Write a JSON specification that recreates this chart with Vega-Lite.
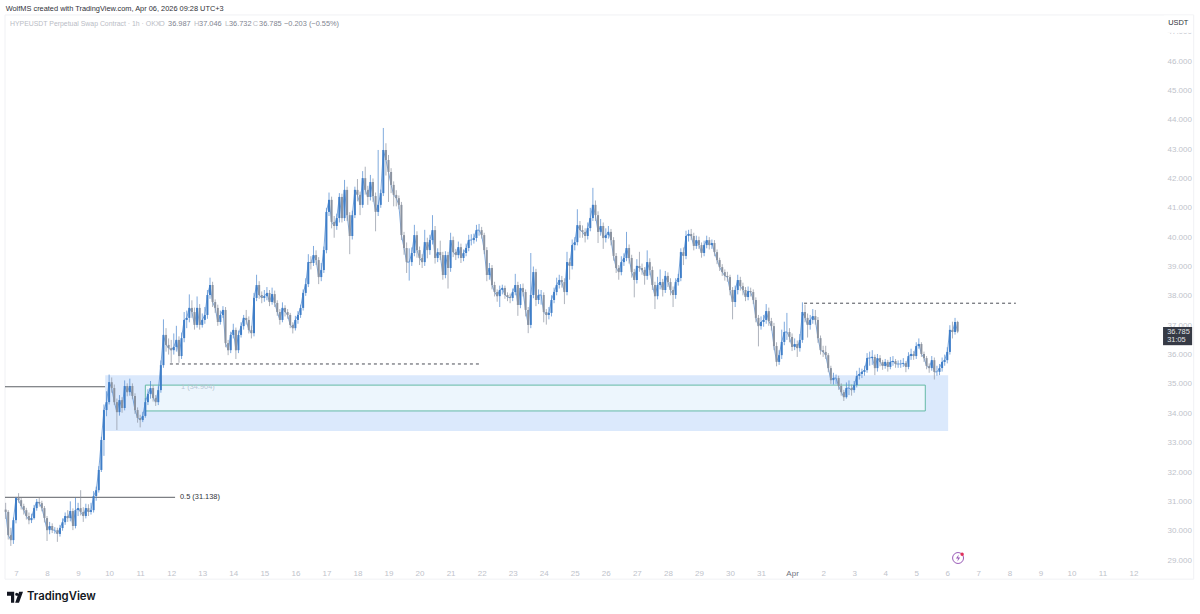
{
"$schema":"https://vega.github.io/schema/vega-lite/v6.json",
"width":1157,"height":546,"autosize":"none",
"padding":{"left":5,"top":17,"right":38,"bottom":51},
"background":"white",
"config":{"view":{"stroke":null},"font":"Liberation Sans"},
"datasets":{
"frame":[{"t":"2026-03-06T15:30Z","t2":"2026-04-13T22:30Z","p":47.57,"p2":28.35}],
"zone":[{"t":"2026-03-09T21:00Z","t2":"2026-04-06T00:40Z","p":35.3,"p2":33.4}],
"box":[{"t":"2026-03-11T04:00Z","t2":"2026-04-05T07:00Z","p":34.96,"p2":34.08}],
"fibs":[
{"t":"2026-03-06T15:30Z","t2":"2026-03-09T21:00Z","p":34.904,"kind":"fib"},
{"t":"2026-03-09T21:00Z","t2":"2026-03-12T03:00Z","p":34.904,"kind":"fade"},
{"t":"2026-03-06T15:30Z","t2":"2026-03-12T03:00Z","p":31.138,"kind":"fib"}],
"dashes":[
{"t":"2026-03-11T23:00Z","t2":"2026-03-21T23:30Z","p":35.68},
{"t":"2026-04-01T09:17Z","t2":"2026-04-08T05:00Z","p":37.75}],
"cover":[{"t":"2026-04-12T23:30Z","t2":"2026-04-13T22:00Z","p":47.55,"p2":46.96}],
"tag":[{"t":"2026-04-12T22:48Z","t2":"2026-04-13T21:17Z","p":36.94,"p2":36.32}],
"icon":[{"t":"2026-04-06T08:20Z","p":29.07}],
"dot":[{"t":"2026-04-06T11:28Z","p":29.2}],
"logo":[{"t":"2026-03-06T23:14Z","p":27.74}],
"brand":[{"t":"2026-03-07T08:30Z","p":27.74,"label":"TradingView"}],
"symbol":[{"t":"2026-03-06T19:22Z","p":47.26,"label":"HYPEUSDT Perpetual Swap Contract · 1h · OKX"}],
"notes":[
{"t":"2026-03-06T16:00Z","p":47.77,"label":"WolfMS created with TradingView.com, Apr 06, 2026 09:28 UTC+3","kind":"head"},
{"t":"2026-03-11T14:30Z","p":47.26,"label":"O","kind":"muted"},
{"t":"2026-03-11T21:32Z","p":47.26,"label":"36.987","kind":"val"},
{"t":"2026-03-12T17:38Z","p":47.26,"label":"H","kind":"muted"},
{"t":"2026-03-12T21:30Z","p":47.26,"label":"37.046","kind":"val"},
{"t":"2026-03-13T17:35Z","p":47.26,"label":"L","kind":"muted"},
{"t":"2026-03-13T20:40Z","p":47.26,"label":"36.732","kind":"val"},
{"t":"2026-03-14T15:00Z","p":47.26,"label":"C","kind":"muted"},
{"t":"2026-03-14T19:54Z","p":47.26,"label":"36.785","kind":"val"},
{"t":"2026-03-15T15:13Z","p":47.26,"label":"−0.203 (−0.55%)","kind":"val"},
{"t":"2026-03-12T07:35Z","p":34.904,"label":"1 (34.904)","kind":"fade"},
{"t":"2026-03-12T06:47Z","p":31.138,"label":"0.5 (31.138)","kind":"head"},
{"t":"2026-04-13T02:45Z","p":47.28,"label":"USDT","kind":"head"},
{"t":"2026-04-13T02:00Z","p":36.77,"label":"36.785","kind":"tag"},
{"t":"2026-04-13T02:00Z","p":36.5,"label":"31:05","kind":"tag"}],
"candles":[
{"t":"2026-03-06T16:00Z","o":30.72,"h":30.95,"l":30.4,"c":30.64},
{"t":"2026-03-06T18:00Z","o":30.64,"h":30.7,"l":29.7,"c":29.85},
{"t":"2026-03-06T20:00Z","o":29.85,"h":30.1,"l":29.48,"c":29.68},
{"t":"2026-03-06T22:00Z","o":29.68,"h":30.45,"l":29.55,"c":30.36},
{"t":"2026-03-07T00:00Z","o":30.36,"h":31.15,"l":30.25,"c":31.11},
{"t":"2026-03-07T02:00Z","o":31.11,"h":31.28,"l":30.95,"c":31.04},
{"t":"2026-03-07T04:00Z","o":31.04,"h":31.12,"l":30.72,"c":30.84},
{"t":"2026-03-07T06:00Z","o":30.84,"h":30.92,"l":30.55,"c":30.7},
{"t":"2026-03-07T08:00Z","o":30.7,"h":30.78,"l":30.38,"c":30.5},
{"t":"2026-03-07T10:00Z","o":30.5,"h":30.62,"l":30.22,"c":30.36},
{"t":"2026-03-07T12:00Z","o":30.36,"h":30.58,"l":30.26,"c":30.43},
{"t":"2026-03-07T14:00Z","o":30.43,"h":30.88,"l":30.38,"c":30.77},
{"t":"2026-03-07T16:00Z","o":30.77,"h":31.08,"l":30.68,"c":30.98},
{"t":"2026-03-07T18:00Z","o":30.98,"h":31.12,"l":30.82,"c":30.94},
{"t":"2026-03-07T20:00Z","o":30.94,"h":31.02,"l":30.66,"c":30.77},
{"t":"2026-03-07T22:00Z","o":30.77,"h":30.84,"l":30.28,"c":30.43},
{"t":"2026-03-08T00:00Z","o":30.43,"h":30.5,"l":29.65,"c":30.02},
{"t":"2026-03-08T02:00Z","o":30.02,"h":30.3,"l":29.88,"c":30.16},
{"t":"2026-03-08T04:00Z","o":30.16,"h":30.25,"l":29.92,"c":30.02},
{"t":"2026-03-08T06:00Z","o":30.02,"h":30.12,"l":29.9,"c":30.02},
{"t":"2026-03-08T08:00Z","o":30.02,"h":30.1,"l":29.62,"c":29.89},
{"t":"2026-03-08T10:00Z","o":29.89,"h":30.2,"l":29.8,"c":30.09},
{"t":"2026-03-08T12:00Z","o":30.09,"h":30.42,"l":30.0,"c":30.29},
{"t":"2026-03-08T14:00Z","o":30.29,"h":30.62,"l":30.2,"c":30.5},
{"t":"2026-03-08T16:00Z","o":30.5,"h":30.7,"l":30.3,"c":30.43},
{"t":"2026-03-08T18:00Z","o":30.43,"h":31.0,"l":30.32,"c":30.67},
{"t":"2026-03-08T20:00Z","o":30.67,"h":30.76,"l":30.02,"c":30.16},
{"t":"2026-03-08T22:00Z","o":30.16,"h":31.12,"l":30.08,"c":30.7},
{"t":"2026-03-09T00:00Z","o":30.7,"h":30.95,"l":30.5,"c":30.77},
{"t":"2026-03-09T02:00Z","o":30.77,"h":31.38,"l":30.52,"c":30.64},
{"t":"2026-03-09T04:00Z","o":30.64,"h":30.8,"l":30.3,"c":30.5},
{"t":"2026-03-09T06:00Z","o":30.5,"h":30.92,"l":30.42,"c":30.77},
{"t":"2026-03-09T08:00Z","o":30.77,"h":30.9,"l":30.5,"c":30.64},
{"t":"2026-03-09T10:00Z","o":30.64,"h":30.95,"l":30.55,"c":30.7},
{"t":"2026-03-09T12:00Z","o":30.7,"h":31.35,"l":30.62,"c":31.18},
{"t":"2026-03-09T14:00Z","o":31.18,"h":31.5,"l":31.02,"c":31.38},
{"t":"2026-03-09T16:00Z","o":31.38,"h":32.2,"l":31.3,"c":32.07},
{"t":"2026-03-09T18:00Z","o":32.07,"h":33.2,"l":32.0,"c":33.09},
{"t":"2026-03-09T20:00Z","o":33.09,"h":34.3,"l":32.55,"c":34.11},
{"t":"2026-03-09T22:00Z","o":34.11,"h":34.75,"l":33.9,"c":34.38},
{"t":"2026-03-10T00:00Z","o":34.38,"h":35.32,"l":34.3,"c":35.06},
{"t":"2026-03-10T02:00Z","o":35.06,"h":35.22,"l":34.7,"c":34.86},
{"t":"2026-03-10T04:00Z","o":34.86,"h":34.98,"l":34.28,"c":34.38},
{"t":"2026-03-10T06:00Z","o":34.38,"h":34.5,"l":33.43,"c":34.04},
{"t":"2026-03-10T08:00Z","o":34.04,"h":34.62,"l":33.92,"c":34.45},
{"t":"2026-03-10T10:00Z","o":34.45,"h":34.55,"l":34.02,"c":34.18},
{"t":"2026-03-10T12:00Z","o":34.18,"h":35.12,"l":34.1,"c":34.93},
{"t":"2026-03-10T14:00Z","o":34.93,"h":35.02,"l":34.58,"c":34.72},
{"t":"2026-03-10T16:00Z","o":34.72,"h":35.18,"l":34.6,"c":34.93},
{"t":"2026-03-10T18:00Z","o":34.93,"h":35.02,"l":34.48,"c":34.59},
{"t":"2026-03-10T20:00Z","o":34.59,"h":34.68,"l":33.98,"c":34.11},
{"t":"2026-03-10T22:00Z","o":34.11,"h":34.2,"l":33.68,"c":33.84},
{"t":"2026-03-11T00:00Z","o":33.84,"h":33.95,"l":33.52,"c":33.77},
{"t":"2026-03-11T02:00Z","o":33.77,"h":34.05,"l":33.7,"c":33.91},
{"t":"2026-03-11T04:00Z","o":33.91,"h":34.52,"l":33.85,"c":34.38},
{"t":"2026-03-11T06:00Z","o":34.38,"h":34.82,"l":34.28,"c":34.66},
{"t":"2026-03-11T08:00Z","o":34.66,"h":35.1,"l":34.5,"c":34.86},
{"t":"2026-03-11T10:00Z","o":34.86,"h":34.95,"l":34.4,"c":34.52},
{"t":"2026-03-11T12:00Z","o":34.52,"h":34.62,"l":34.25,"c":34.38},
{"t":"2026-03-11T14:00Z","o":34.38,"h":34.92,"l":34.28,"c":34.79},
{"t":"2026-03-11T16:00Z","o":34.79,"h":35.8,"l":34.7,"c":35.64},
{"t":"2026-03-11T18:00Z","o":35.64,"h":37.2,"l":35.55,"c":36.67},
{"t":"2026-03-11T20:00Z","o":36.67,"h":36.9,"l":36.1,"c":36.33},
{"t":"2026-03-11T22:00Z","o":36.33,"h":36.55,"l":36.0,"c":36.22},
{"t":"2026-03-12T00:00Z","o":36.22,"h":36.5,"l":35.72,"c":36.15},
{"t":"2026-03-12T02:00Z","o":36.15,"h":36.72,"l":36.0,"c":36.26},
{"t":"2026-03-12T04:00Z","o":36.26,"h":36.98,"l":36.1,"c":36.5},
{"t":"2026-03-12T06:00Z","o":36.5,"h":36.62,"l":35.72,"c":35.95},
{"t":"2026-03-12T08:00Z","o":35.95,"h":36.75,"l":35.85,"c":36.56},
{"t":"2026-03-12T10:00Z","o":36.56,"h":37.45,"l":36.42,"c":37.18},
{"t":"2026-03-12T12:00Z","o":37.18,"h":37.5,"l":36.9,"c":37.25},
{"t":"2026-03-12T14:00Z","o":37.25,"h":38.05,"l":37.1,"c":37.59},
{"t":"2026-03-12T16:00Z","o":37.59,"h":37.85,"l":37.25,"c":37.45},
{"t":"2026-03-12T18:00Z","o":37.45,"h":37.6,"l":36.85,"c":37.01},
{"t":"2026-03-12T20:00Z","o":37.01,"h":37.98,"l":36.92,"c":37.59},
{"t":"2026-03-12T22:00Z","o":37.59,"h":37.72,"l":36.85,"c":37.01},
{"t":"2026-03-13T00:00Z","o":37.01,"h":37.4,"l":36.92,"c":37.18},
{"t":"2026-03-13T02:00Z","o":37.18,"h":37.62,"l":37.05,"c":37.35},
{"t":"2026-03-13T04:00Z","o":37.35,"h":38.2,"l":37.22,"c":38.03},
{"t":"2026-03-13T06:00Z","o":38.03,"h":38.62,"l":37.9,"c":38.37},
{"t":"2026-03-13T08:00Z","o":38.37,"h":38.48,"l":37.62,"c":37.79},
{"t":"2026-03-13T10:00Z","o":37.79,"h":37.88,"l":37.42,"c":37.59},
{"t":"2026-03-13T12:00Z","o":37.59,"h":37.7,"l":36.98,"c":37.11},
{"t":"2026-03-13T14:00Z","o":37.11,"h":37.5,"l":37.02,"c":37.35},
{"t":"2026-03-13T16:00Z","o":37.35,"h":37.65,"l":37.25,"c":37.52},
{"t":"2026-03-13T18:00Z","o":37.52,"h":37.62,"l":36.25,"c":36.39},
{"t":"2026-03-13T20:00Z","o":36.39,"h":36.5,"l":35.98,"c":36.15},
{"t":"2026-03-13T22:00Z","o":36.15,"h":36.78,"l":36.05,"c":36.67},
{"t":"2026-03-14T00:00Z","o":36.67,"h":37.05,"l":36.55,"c":36.84},
{"t":"2026-03-14T02:00Z","o":36.84,"h":36.92,"l":35.85,"c":36.15},
{"t":"2026-03-14T04:00Z","o":36.15,"h":36.82,"l":36.05,"c":36.67},
{"t":"2026-03-14T06:00Z","o":36.67,"h":37.1,"l":36.58,"c":36.97},
{"t":"2026-03-14T08:00Z","o":36.97,"h":37.35,"l":36.85,"c":37.25},
{"t":"2026-03-14T10:00Z","o":37.25,"h":37.52,"l":37.02,"c":37.18},
{"t":"2026-03-14T12:00Z","o":37.18,"h":37.3,"l":36.72,"c":36.84},
{"t":"2026-03-14T14:00Z","o":36.84,"h":36.98,"l":36.55,"c":36.73},
{"t":"2026-03-14T16:00Z","o":36.73,"h":38.1,"l":36.62,"c":37.93},
{"t":"2026-03-14T18:00Z","o":37.93,"h":38.72,"l":37.82,"c":38.37},
{"t":"2026-03-14T20:00Z","o":38.37,"h":38.5,"l":37.9,"c":38.03},
{"t":"2026-03-14T22:00Z","o":38.03,"h":38.15,"l":37.75,"c":37.93},
{"t":"2026-03-15T00:00Z","o":37.93,"h":38.2,"l":37.8,"c":37.99},
{"t":"2026-03-15T02:00Z","o":37.99,"h":38.3,"l":37.85,"c":38.1},
{"t":"2026-03-15T04:00Z","o":38.1,"h":38.2,"l":37.65,"c":37.79},
{"t":"2026-03-15T06:00Z","o":37.79,"h":38.28,"l":37.7,"c":38.06},
{"t":"2026-03-15T08:00Z","o":38.06,"h":38.18,"l":37.62,"c":37.76},
{"t":"2026-03-15T10:00Z","o":37.76,"h":37.85,"l":37.32,"c":37.45},
{"t":"2026-03-15T12:00Z","o":37.45,"h":37.55,"l":37.02,"c":37.18},
{"t":"2026-03-15T14:00Z","o":37.18,"h":37.78,"l":37.1,"c":37.59},
{"t":"2026-03-15T16:00Z","o":37.59,"h":37.68,"l":37.3,"c":37.45},
{"t":"2026-03-15T18:00Z","o":37.45,"h":37.55,"l":37.22,"c":37.35},
{"t":"2026-03-15T20:00Z","o":37.35,"h":37.42,"l":36.9,"c":37.01},
{"t":"2026-03-15T22:00Z","o":37.01,"h":37.1,"l":36.72,"c":36.9},
{"t":"2026-03-16T00:00Z","o":36.9,"h":37.32,"l":36.82,"c":37.18},
{"t":"2026-03-16T02:00Z","o":37.18,"h":37.48,"l":37.05,"c":37.35},
{"t":"2026-03-16T04:00Z","o":37.35,"h":37.7,"l":37.25,"c":37.59},
{"t":"2026-03-16T06:00Z","o":37.59,"h":38.22,"l":37.5,"c":38.1},
{"t":"2026-03-16T08:00Z","o":38.1,"h":38.6,"l":38.0,"c":38.4},
{"t":"2026-03-16T10:00Z","o":38.4,"h":39.42,"l":38.3,"c":39.15},
{"t":"2026-03-16T12:00Z","o":39.15,"h":39.35,"l":38.9,"c":39.12},
{"t":"2026-03-16T14:00Z","o":39.12,"h":39.7,"l":39.02,"c":39.39},
{"t":"2026-03-16T16:00Z","o":39.39,"h":39.55,"l":39.05,"c":39.22},
{"t":"2026-03-16T18:00Z","o":39.22,"h":39.32,"l":38.4,"c":38.64},
{"t":"2026-03-16T20:00Z","o":38.64,"h":39.12,"l":38.5,"c":38.88},
{"t":"2026-03-16T22:00Z","o":38.88,"h":39.68,"l":38.78,"c":39.56},
{"t":"2026-03-17T00:00Z","o":39.56,"h":41.0,"l":39.45,"c":40.86},
{"t":"2026-03-17T02:00Z","o":40.86,"h":41.52,"l":40.72,"c":41.27},
{"t":"2026-03-17T04:00Z","o":41.27,"h":41.38,"l":40.3,"c":40.52},
{"t":"2026-03-17T06:00Z","o":40.52,"h":40.72,"l":39.98,"c":40.38},
{"t":"2026-03-17T08:00Z","o":40.38,"h":40.8,"l":40.25,"c":40.65},
{"t":"2026-03-17T10:00Z","o":40.65,"h":41.5,"l":40.5,"c":41.37},
{"t":"2026-03-17T12:00Z","o":41.37,"h":41.48,"l":40.5,"c":40.65},
{"t":"2026-03-17T14:00Z","o":40.65,"h":41.95,"l":40.55,"c":41.61},
{"t":"2026-03-17T16:00Z","o":41.61,"h":41.72,"l":40.55,"c":40.75},
{"t":"2026-03-17T18:00Z","o":40.75,"h":40.85,"l":39.42,"c":40.04},
{"t":"2026-03-17T20:00Z","o":40.04,"h":40.9,"l":39.92,"c":40.75},
{"t":"2026-03-17T22:00Z","o":40.75,"h":41.72,"l":40.65,"c":41.61},
{"t":"2026-03-18T00:00Z","o":41.61,"h":41.98,"l":41.22,"c":41.44},
{"t":"2026-03-18T02:00Z","o":41.44,"h":41.55,"l":40.75,"c":41.1},
{"t":"2026-03-18T04:00Z","o":41.1,"h":42.25,"l":41.0,"c":42.01},
{"t":"2026-03-18T06:00Z","o":42.01,"h":42.4,"l":41.45,"c":41.61},
{"t":"2026-03-18T08:00Z","o":41.61,"h":41.75,"l":41.1,"c":41.37},
{"t":"2026-03-18T10:00Z","o":41.37,"h":42.12,"l":41.25,"c":41.88},
{"t":"2026-03-18T12:00Z","o":41.88,"h":42.0,"l":41.2,"c":41.4},
{"t":"2026-03-18T14:00Z","o":41.4,"h":41.52,"l":40.2,"c":40.86},
{"t":"2026-03-18T16:00Z","o":40.86,"h":42.97,"l":40.72,"c":41.1},
{"t":"2026-03-18T18:00Z","o":41.1,"h":41.62,"l":41.0,"c":41.5},
{"t":"2026-03-18T20:00Z","o":41.5,"h":43.72,"l":41.4,"c":42.97},
{"t":"2026-03-18T22:00Z","o":42.97,"h":43.2,"l":42.1,"c":42.63},
{"t":"2026-03-19T00:00Z","o":42.63,"h":42.8,"l":41.2,"c":42.22},
{"t":"2026-03-19T02:00Z","o":42.22,"h":42.35,"l":41.5,"c":41.78},
{"t":"2026-03-19T04:00Z","o":41.78,"h":41.9,"l":41.05,"c":41.44},
{"t":"2026-03-19T06:00Z","o":41.44,"h":41.6,"l":41.05,"c":41.33},
{"t":"2026-03-19T08:00Z","o":41.33,"h":41.42,"l":40.95,"c":41.1},
{"t":"2026-03-19T10:00Z","o":41.1,"h":41.2,"l":39.9,"c":40.07},
{"t":"2026-03-19T12:00Z","o":40.07,"h":40.18,"l":39.4,"c":39.63},
{"t":"2026-03-19T14:00Z","o":39.63,"h":39.82,"l":38.78,"c":39.15},
{"t":"2026-03-19T16:00Z","o":39.15,"h":39.62,"l":38.52,"c":39.15},
{"t":"2026-03-19T18:00Z","o":39.15,"h":39.65,"l":39.02,"c":39.46},
{"t":"2026-03-19T20:00Z","o":39.46,"h":40.42,"l":39.35,"c":40.07},
{"t":"2026-03-19T22:00Z","o":40.07,"h":40.2,"l":39.3,"c":39.56},
{"t":"2026-03-20T00:00Z","o":39.56,"h":39.68,"l":39.05,"c":39.29},
{"t":"2026-03-20T02:00Z","o":39.29,"h":39.42,"l":38.95,"c":39.15},
{"t":"2026-03-20T04:00Z","o":39.15,"h":40.25,"l":39.02,"c":39.83},
{"t":"2026-03-20T06:00Z","o":39.83,"h":39.98,"l":39.28,"c":39.56},
{"t":"2026-03-20T08:00Z","o":39.56,"h":40.08,"l":39.4,"c":39.9},
{"t":"2026-03-20T10:00Z","o":39.9,"h":40.75,"l":39.75,"c":40.24},
{"t":"2026-03-20T12:00Z","o":40.24,"h":40.38,"l":39.1,"c":39.29},
{"t":"2026-03-20T14:00Z","o":39.29,"h":39.62,"l":39.15,"c":39.49},
{"t":"2026-03-20T16:00Z","o":39.49,"h":39.88,"l":39.22,"c":39.39},
{"t":"2026-03-20T18:00Z","o":39.39,"h":39.5,"l":38.55,"c":38.71},
{"t":"2026-03-20T20:00Z","o":38.71,"h":39.52,"l":38.6,"c":39.39},
{"t":"2026-03-20T22:00Z","o":39.39,"h":39.5,"l":38.25,"c":38.95},
{"t":"2026-03-21T00:00Z","o":38.95,"h":40.15,"l":38.82,"c":39.9},
{"t":"2026-03-21T02:00Z","o":39.9,"h":40.02,"l":39.32,"c":39.49},
{"t":"2026-03-21T04:00Z","o":39.49,"h":39.6,"l":39.22,"c":39.39},
{"t":"2026-03-21T06:00Z","o":39.39,"h":39.85,"l":39.28,"c":39.66},
{"t":"2026-03-21T08:00Z","o":39.66,"h":39.78,"l":39.12,"c":39.29},
{"t":"2026-03-21T10:00Z","o":39.29,"h":39.58,"l":39.18,"c":39.46},
{"t":"2026-03-21T12:00Z","o":39.46,"h":39.78,"l":39.35,"c":39.63},
{"t":"2026-03-21T14:00Z","o":39.63,"h":40.08,"l":39.52,"c":39.9},
{"t":"2026-03-21T16:00Z","o":39.9,"h":40.1,"l":39.72,"c":39.9},
{"t":"2026-03-21T18:00Z","o":39.9,"h":40.12,"l":39.78,"c":39.97},
{"t":"2026-03-21T20:00Z","o":39.97,"h":40.42,"l":39.85,"c":40.24},
{"t":"2026-03-21T22:00Z","o":40.24,"h":40.45,"l":40.05,"c":40.24},
{"t":"2026-03-22T00:00Z","o":40.24,"h":40.35,"l":39.95,"c":40.07},
{"t":"2026-03-22T02:00Z","o":40.07,"h":40.15,"l":39.42,"c":39.56},
{"t":"2026-03-22T04:00Z","o":39.56,"h":39.66,"l":38.5,"c":38.71},
{"t":"2026-03-22T06:00Z","o":38.71,"h":39.12,"l":38.55,"c":38.95},
{"t":"2026-03-22T08:00Z","o":38.95,"h":39.05,"l":38.22,"c":38.37},
{"t":"2026-03-22T10:00Z","o":38.37,"h":38.48,"l":37.98,"c":38.13},
{"t":"2026-03-22T12:00Z","o":38.13,"h":38.22,"l":37.8,"c":37.99},
{"t":"2026-03-22T14:00Z","o":37.99,"h":38.35,"l":37.62,"c":38.2},
{"t":"2026-03-22T16:00Z","o":38.2,"h":38.38,"l":38.05,"c":38.27},
{"t":"2026-03-22T18:00Z","o":38.27,"h":38.35,"l":37.9,"c":38.03},
{"t":"2026-03-22T20:00Z","o":38.03,"h":38.12,"l":37.82,"c":37.96},
{"t":"2026-03-22T22:00Z","o":37.96,"h":38.08,"l":37.75,"c":37.93},
{"t":"2026-03-23T00:00Z","o":37.93,"h":38.25,"l":37.82,"c":38.13},
{"t":"2026-03-23T02:00Z","o":38.13,"h":38.75,"l":38.02,"c":38.37},
{"t":"2026-03-23T04:00Z","o":38.37,"h":38.48,"l":37.32,"c":37.69},
{"t":"2026-03-23T06:00Z","o":37.69,"h":38.4,"l":37.58,"c":38.27},
{"t":"2026-03-23T08:00Z","o":38.27,"h":38.42,"l":37.98,"c":38.13},
{"t":"2026-03-23T10:00Z","o":38.13,"h":38.22,"l":37.3,"c":37.52},
{"t":"2026-03-23T12:00Z","o":37.52,"h":37.62,"l":36.73,"c":37.01},
{"t":"2026-03-23T14:00Z","o":37.01,"h":39.46,"l":36.9,"c":38.03},
{"t":"2026-03-23T16:00Z","o":38.03,"h":39.0,"l":37.92,"c":38.81},
{"t":"2026-03-23T18:00Z","o":38.81,"h":38.92,"l":37.65,"c":37.86},
{"t":"2026-03-23T20:00Z","o":37.86,"h":38.22,"l":37.72,"c":38.03},
{"t":"2026-03-23T22:00Z","o":38.03,"h":38.2,"l":37.7,"c":38.03},
{"t":"2026-03-24T00:00Z","o":38.03,"h":38.12,"l":37.1,"c":37.45},
{"t":"2026-03-24T02:00Z","o":37.45,"h":37.55,"l":37.02,"c":37.35},
{"t":"2026-03-24T04:00Z","o":37.35,"h":37.62,"l":37.2,"c":37.42},
{"t":"2026-03-24T06:00Z","o":37.42,"h":38.02,"l":37.3,"c":37.86},
{"t":"2026-03-24T08:00Z","o":37.86,"h":38.28,"l":37.75,"c":38.13},
{"t":"2026-03-24T10:00Z","o":38.13,"h":38.62,"l":38.02,"c":38.37},
{"t":"2026-03-24T12:00Z","o":38.37,"h":38.72,"l":38.25,"c":38.54},
{"t":"2026-03-24T14:00Z","o":38.54,"h":38.68,"l":38.28,"c":38.47},
{"t":"2026-03-24T16:00Z","o":38.47,"h":38.6,"l":37.72,"c":38.13},
{"t":"2026-03-24T18:00Z","o":38.13,"h":39.5,"l":38.02,"c":39.15},
{"t":"2026-03-24T20:00Z","o":39.15,"h":39.28,"l":38.55,"c":39.02},
{"t":"2026-03-24T22:00Z","o":39.02,"h":39.92,"l":38.9,"c":39.73},
{"t":"2026-03-25T00:00Z","o":39.73,"h":40.0,"l":39.55,"c":39.83},
{"t":"2026-03-25T02:00Z","o":39.83,"h":40.95,"l":39.72,"c":40.41},
{"t":"2026-03-25T04:00Z","o":40.41,"h":40.55,"l":39.98,"c":40.24},
{"t":"2026-03-25T06:00Z","o":40.24,"h":40.4,"l":39.98,"c":40.18},
{"t":"2026-03-25T08:00Z","o":40.18,"h":40.3,"l":39.82,"c":40.04},
{"t":"2026-03-25T10:00Z","o":40.04,"h":40.5,"l":39.92,"c":40.31},
{"t":"2026-03-25T12:00Z","o":40.31,"h":41.0,"l":40.2,"c":40.65},
{"t":"2026-03-25T14:00Z","o":40.65,"h":41.68,"l":40.55,"c":41.1},
{"t":"2026-03-25T16:00Z","o":41.1,"h":41.25,"l":40.55,"c":40.75},
{"t":"2026-03-25T18:00Z","o":40.75,"h":40.88,"l":39.8,"c":40.18},
{"t":"2026-03-25T20:00Z","o":40.18,"h":40.62,"l":40.05,"c":40.38},
{"t":"2026-03-25T22:00Z","o":40.38,"h":40.5,"l":39.6,"c":39.97},
{"t":"2026-03-26T00:00Z","o":39.97,"h":40.3,"l":39.82,"c":40.07},
{"t":"2026-03-26T02:00Z","o":40.07,"h":40.38,"l":39.95,"c":40.18},
{"t":"2026-03-26T04:00Z","o":40.18,"h":40.28,"l":39.72,"c":39.9},
{"t":"2026-03-26T06:00Z","o":39.9,"h":40.0,"l":39.2,"c":39.36},
{"t":"2026-03-26T08:00Z","o":39.36,"h":39.46,"l":38.78,"c":38.95},
{"t":"2026-03-26T10:00Z","o":38.95,"h":39.05,"l":38.55,"c":38.81},
{"t":"2026-03-26T12:00Z","o":38.81,"h":39.35,"l":38.7,"c":39.15},
{"t":"2026-03-26T14:00Z","o":39.15,"h":39.45,"l":39.02,"c":39.29},
{"t":"2026-03-26T16:00Z","o":39.29,"h":40.18,"l":39.18,"c":39.63},
{"t":"2026-03-26T18:00Z","o":39.63,"h":39.75,"l":39.1,"c":39.29},
{"t":"2026-03-26T20:00Z","o":39.29,"h":39.4,"l":38.62,"c":38.81},
{"t":"2026-03-26T22:00Z","o":38.81,"h":38.92,"l":37.95,"c":38.54},
{"t":"2026-03-27T00:00Z","o":38.54,"h":39.25,"l":38.42,"c":39.02},
{"t":"2026-03-27T02:00Z","o":39.02,"h":39.5,"l":38.82,"c":38.95},
{"t":"2026-03-27T04:00Z","o":38.95,"h":39.1,"l":38.72,"c":38.88},
{"t":"2026-03-27T06:00Z","o":38.88,"h":38.98,"l":38.38,"c":38.68},
{"t":"2026-03-27T08:00Z","o":38.68,"h":39.55,"l":38.55,"c":39.15},
{"t":"2026-03-27T10:00Z","o":39.15,"h":39.28,"l":38.7,"c":38.88},
{"t":"2026-03-27T12:00Z","o":38.88,"h":39.0,"l":38.2,"c":38.37},
{"t":"2026-03-27T14:00Z","o":38.37,"h":38.48,"l":37.55,"c":37.99},
{"t":"2026-03-27T16:00Z","o":37.99,"h":38.65,"l":37.88,"c":38.37},
{"t":"2026-03-27T18:00Z","o":38.37,"h":38.9,"l":38.22,"c":38.47},
{"t":"2026-03-27T20:00Z","o":38.47,"h":38.58,"l":37.98,"c":38.2},
{"t":"2026-03-27T22:00Z","o":38.2,"h":38.85,"l":38.1,"c":38.68},
{"t":"2026-03-28T00:00Z","o":38.68,"h":38.8,"l":38.3,"c":38.47},
{"t":"2026-03-28T02:00Z","o":38.47,"h":38.6,"l":38.02,"c":38.2},
{"t":"2026-03-28T04:00Z","o":38.2,"h":38.32,"l":37.62,"c":38.03},
{"t":"2026-03-28T06:00Z","o":38.03,"h":38.6,"l":37.9,"c":38.47},
{"t":"2026-03-28T08:00Z","o":38.47,"h":38.75,"l":38.35,"c":38.61},
{"t":"2026-03-28T10:00Z","o":38.61,"h":39.62,"l":38.5,"c":39.49},
{"t":"2026-03-28T12:00Z","o":39.49,"h":39.65,"l":39.05,"c":39.36},
{"t":"2026-03-28T14:00Z","o":39.36,"h":40.22,"l":39.25,"c":40.04},
{"t":"2026-03-28T16:00Z","o":40.04,"h":40.25,"l":39.85,"c":40.11},
{"t":"2026-03-28T18:00Z","o":40.11,"h":40.28,"l":39.9,"c":40.04},
{"t":"2026-03-28T20:00Z","o":40.04,"h":40.15,"l":39.55,"c":39.7},
{"t":"2026-03-28T22:00Z","o":39.7,"h":40.05,"l":39.6,"c":39.9},
{"t":"2026-03-29T00:00Z","o":39.9,"h":40.02,"l":39.6,"c":39.73},
{"t":"2026-03-29T02:00Z","o":39.73,"h":39.82,"l":39.3,"c":39.46},
{"t":"2026-03-29T04:00Z","o":39.46,"h":39.88,"l":39.35,"c":39.73},
{"t":"2026-03-29T06:00Z","o":39.73,"h":40.05,"l":39.62,"c":39.9},
{"t":"2026-03-29T08:00Z","o":39.9,"h":40.0,"l":39.58,"c":39.73},
{"t":"2026-03-29T10:00Z","o":39.73,"h":39.92,"l":39.6,"c":39.8},
{"t":"2026-03-29T12:00Z","o":39.8,"h":39.9,"l":39.35,"c":39.49},
{"t":"2026-03-29T14:00Z","o":39.49,"h":39.58,"l":39.08,"c":39.22},
{"t":"2026-03-29T16:00Z","o":39.22,"h":39.3,"l":38.85,"c":38.98},
{"t":"2026-03-29T18:00Z","o":38.98,"h":39.08,"l":38.68,"c":38.81},
{"t":"2026-03-29T20:00Z","o":38.81,"h":38.9,"l":38.52,"c":38.68},
{"t":"2026-03-29T22:00Z","o":38.68,"h":38.82,"l":38.48,"c":38.64},
{"t":"2026-03-30T00:00Z","o":38.64,"h":38.72,"l":38.02,"c":38.2},
{"t":"2026-03-30T02:00Z","o":38.2,"h":38.3,"l":37.2,"c":37.79},
{"t":"2026-03-30T04:00Z","o":37.79,"h":38.35,"l":37.62,"c":38.2},
{"t":"2026-03-30T06:00Z","o":38.2,"h":38.72,"l":38.05,"c":38.54},
{"t":"2026-03-30T08:00Z","o":38.54,"h":38.65,"l":38.18,"c":38.33},
{"t":"2026-03-30T10:00Z","o":38.33,"h":38.45,"l":38.02,"c":38.2},
{"t":"2026-03-30T12:00Z","o":38.2,"h":38.3,"l":37.82,"c":37.96},
{"t":"2026-03-30T14:00Z","o":37.96,"h":38.32,"l":37.85,"c":38.16},
{"t":"2026-03-30T16:00Z","o":38.16,"h":38.28,"l":37.98,"c":38.13},
{"t":"2026-03-30T18:00Z","o":38.13,"h":38.22,"l":37.72,"c":37.86},
{"t":"2026-03-30T20:00Z","o":37.86,"h":37.95,"l":37.1,"c":37.25},
{"t":"2026-03-30T22:00Z","o":37.25,"h":37.35,"l":36.28,"c":36.97},
{"t":"2026-03-31T00:00Z","o":36.97,"h":37.3,"l":36.85,"c":37.11},
{"t":"2026-03-31T02:00Z","o":37.11,"h":37.35,"l":36.95,"c":37.18},
{"t":"2026-03-31T04:00Z","o":37.18,"h":37.72,"l":37.05,"c":37.48},
{"t":"2026-03-31T06:00Z","o":37.48,"h":37.6,"l":36.98,"c":37.14},
{"t":"2026-03-31T08:00Z","o":37.14,"h":37.25,"l":36.82,"c":36.97},
{"t":"2026-03-31T10:00Z","o":36.97,"h":37.08,"l":36.15,"c":36.29},
{"t":"2026-03-31T12:00Z","o":36.29,"h":36.42,"l":35.6,"c":35.75},
{"t":"2026-03-31T14:00Z","o":35.75,"h":36.15,"l":35.65,"c":35.98},
{"t":"2026-03-31T16:00Z","o":35.98,"h":36.85,"l":35.85,"c":36.43},
{"t":"2026-03-31T18:00Z","o":36.43,"h":37.12,"l":36.32,"c":36.77},
{"t":"2026-03-31T20:00Z","o":36.77,"h":37.42,"l":36.5,"c":36.77},
{"t":"2026-03-31T22:00Z","o":36.77,"h":36.9,"l":36.42,"c":36.6},
{"t":"2026-04-01T00:00Z","o":36.6,"h":36.72,"l":36.12,"c":36.26},
{"t":"2026-04-01T02:00Z","o":36.26,"h":36.55,"l":36.15,"c":36.36},
{"t":"2026-04-01T04:00Z","o":36.36,"h":36.48,"l":35.92,"c":36.22},
{"t":"2026-04-01T06:00Z","o":36.22,"h":36.7,"l":36.1,"c":36.5},
{"t":"2026-04-01T08:00Z","o":36.5,"h":37.78,"l":36.4,"c":37.45},
{"t":"2026-04-01T10:00Z","o":37.45,"h":37.7,"l":37.1,"c":37.25},
{"t":"2026-04-01T12:00Z","o":37.25,"h":37.4,"l":36.58,"c":37.01},
{"t":"2026-04-01T14:00Z","o":37.01,"h":37.35,"l":36.85,"c":37.18},
{"t":"2026-04-01T16:00Z","o":37.18,"h":37.55,"l":37.05,"c":37.31},
{"t":"2026-04-01T18:00Z","o":37.31,"h":37.52,"l":37.02,"c":37.18},
{"t":"2026-04-01T20:00Z","o":37.18,"h":37.28,"l":36.4,"c":36.56},
{"t":"2026-04-01T22:00Z","o":36.56,"h":36.65,"l":36.0,"c":36.15},
{"t":"2026-04-02T00:00Z","o":36.15,"h":36.3,"l":35.92,"c":36.09},
{"t":"2026-04-02T02:00Z","o":36.09,"h":36.3,"l":35.85,"c":35.98},
{"t":"2026-04-02T04:00Z","o":35.98,"h":36.05,"l":35.4,"c":35.54},
{"t":"2026-04-02T06:00Z","o":35.54,"h":35.62,"l":35.0,"c":35.13},
{"t":"2026-04-02T08:00Z","o":35.13,"h":35.38,"l":34.98,"c":35.2},
{"t":"2026-04-02T10:00Z","o":35.2,"h":35.32,"l":35.0,"c":35.2},
{"t":"2026-04-02T12:00Z","o":35.2,"h":35.28,"l":34.8,"c":34.93},
{"t":"2026-04-02T14:00Z","o":34.93,"h":35.02,"l":34.6,"c":34.72},
{"t":"2026-04-02T16:00Z","o":34.72,"h":34.8,"l":34.42,"c":34.55},
{"t":"2026-04-02T18:00Z","o":34.55,"h":35.05,"l":34.5,"c":34.86},
{"t":"2026-04-02T20:00Z","o":34.86,"h":35.12,"l":34.62,"c":34.86},
{"t":"2026-04-02T22:00Z","o":34.86,"h":34.98,"l":34.6,"c":34.79},
{"t":"2026-04-03T00:00Z","o":34.79,"h":35.1,"l":34.7,"c":34.96},
{"t":"2026-04-03T02:00Z","o":34.96,"h":35.45,"l":34.88,"c":35.27},
{"t":"2026-04-03T04:00Z","o":35.27,"h":35.55,"l":35.15,"c":35.34},
{"t":"2026-04-03T06:00Z","o":35.34,"h":35.52,"l":35.2,"c":35.41},
{"t":"2026-04-03T08:00Z","o":35.41,"h":35.62,"l":35.28,"c":35.47},
{"t":"2026-04-03T10:00Z","o":35.47,"h":36.05,"l":35.38,"c":35.88},
{"t":"2026-04-03T12:00Z","o":35.88,"h":36.1,"l":35.62,"c":35.88},
{"t":"2026-04-03T14:00Z","o":35.88,"h":36.15,"l":35.65,"c":35.92},
{"t":"2026-04-03T16:00Z","o":35.92,"h":36.0,"l":35.3,"c":35.54},
{"t":"2026-04-03T18:00Z","o":35.54,"h":36.02,"l":35.42,"c":35.88},
{"t":"2026-04-03T20:00Z","o":35.88,"h":35.98,"l":35.6,"c":35.75},
{"t":"2026-04-03T22:00Z","o":35.75,"h":35.82,"l":35.48,"c":35.61},
{"t":"2026-04-04T00:00Z","o":35.61,"h":35.85,"l":35.52,"c":35.75},
{"t":"2026-04-04T02:00Z","o":35.75,"h":35.82,"l":35.42,"c":35.58},
{"t":"2026-04-04T04:00Z","o":35.58,"h":35.92,"l":35.5,"c":35.75},
{"t":"2026-04-04T06:00Z","o":35.75,"h":35.95,"l":35.62,"c":35.78},
{"t":"2026-04-04T08:00Z","o":35.78,"h":35.85,"l":35.55,"c":35.68},
{"t":"2026-04-04T10:00Z","o":35.68,"h":35.8,"l":35.55,"c":35.68},
{"t":"2026-04-04T12:00Z","o":35.68,"h":35.82,"l":35.55,"c":35.68},
{"t":"2026-04-04T14:00Z","o":35.68,"h":35.88,"l":35.58,"c":35.71},
{"t":"2026-04-04T16:00Z","o":35.71,"h":35.78,"l":35.4,"c":35.58},
{"t":"2026-04-04T18:00Z","o":35.58,"h":36.08,"l":35.5,"c":35.95},
{"t":"2026-04-04T20:00Z","o":35.95,"h":36.2,"l":35.82,"c":36.02},
{"t":"2026-04-04T22:00Z","o":36.02,"h":36.12,"l":35.82,"c":35.95},
{"t":"2026-04-05T00:00Z","o":35.95,"h":36.42,"l":35.85,"c":36.29},
{"t":"2026-04-05T02:00Z","o":36.29,"h":36.55,"l":36.2,"c":36.36},
{"t":"2026-04-05T04:00Z","o":36.36,"h":36.42,"l":35.92,"c":36.02},
{"t":"2026-04-05T06:00Z","o":36.02,"h":36.1,"l":35.75,"c":35.88},
{"t":"2026-04-05T08:00Z","o":35.88,"h":35.95,"l":35.5,"c":35.61},
{"t":"2026-04-05T10:00Z","o":35.61,"h":35.7,"l":35.38,"c":35.54},
{"t":"2026-04-05T12:00Z","o":35.54,"h":35.95,"l":35.45,"c":35.81},
{"t":"2026-04-05T14:00Z","o":35.81,"h":35.9,"l":35.15,"c":35.41},
{"t":"2026-04-05T16:00Z","o":35.41,"h":35.62,"l":35.28,"c":35.41},
{"t":"2026-04-05T18:00Z","o":35.41,"h":35.68,"l":35.3,"c":35.54},
{"t":"2026-04-05T20:00Z","o":35.54,"h":35.9,"l":35.42,"c":35.75},
{"t":"2026-04-05T22:00Z","o":35.75,"h":36.0,"l":35.62,"c":35.81},
{"t":"2026-04-06T00:00Z","o":35.81,"h":36.25,"l":35.7,"c":36.09},
{"t":"2026-04-06T02:00Z","o":36.09,"h":37.0,"l":36.0,"c":36.84},
{"t":"2026-04-06T04:00Z","o":36.84,"h":37.12,"l":36.55,"c":36.77},
{"t":"2026-04-06T06:00Z","o":36.77,"h":37.25,"l":36.68,"c":37.11},
{"t":"2026-04-06T08:00Z","o":37.11,"h":37.15,"l":36.73,"c":36.785}]
},
"encoding":{
"x":{"field":"t","type":"temporal","title":null,"scale":{"type":"utc","domain":["2026-03-06T15:30:00Z","2026-04-12T22:00:00Z"]},
"axis":{"domain":false,"ticks":false,"grid":false,"tickCount":{"interval":"day","step":1},"labelOverlap":false,"labelFontSize":8,"labelPadding":6,"labelColor":{"condition":{"test":"utcdate(datum.value)==1","value":"#70747e"},"value":"#c0c3cb"},"labelExpr":"utcdate(datum.value)==1?'Apr':''+utcdate(datum.value)"}},
"y":{"field":"p","type":"quantitative","title":null,"scale":{"domain":[28.9,47.5]},
"axis":{"orient":"right","domain":false,"ticks":false,"grid":false,"values":[29,30,31,32,33,34,35,36,37,38,39,40,41,42,43,44,45,46,47],"format":".3f","labelFontSize":8,"labelPadding":5,"labelColor":"#c0c3cb"}}
},
"layer":[
{"data":{"name":"frame"},"mark":{"type":"rect","fill":"transparent","stroke":"#f0f1f4","strokeWidth":1},"encoding":{"x2":{"field":"t2"},"y2":{"field":"p2"}}},
{"data":{"name":"fibs"},"mark":{"type":"rule","strokeWidth":1},"encoding":{"x2":{"field":"t2"},"color":{"field":"kind","type":"nominal","legend":null,"scale":{"domain":["head","muted","val","fib","fade","tag"],"range":["#2f3138","#b9bcc5","#80848f","#5d6066","#b7c6d4","#e4e5e9"]}}}},
{"data":{"name":"zone"},"mark":{"type":"rect","fill":"#dbe9fc"},"encoding":{"x2":{"field":"t2"},"y2":{"field":"p2"}}},
{"data":{"name":"box"},"mark":{"type":"rect","fill":"#edf6fd","stroke":"#63b9a6","strokeWidth":1},"encoding":{"x2":{"field":"t2"},"y2":{"field":"p2"}}},
{"data":{"name":"dashes"},"mark":{"type":"rule","stroke":"#4a4d55","strokeWidth":1,"strokeDash":[3,3]},"encoding":{"x2":{"field":"t2"}}},
{"data":{"name":"candles"},"mark":{"type":"line","stroke":"#4a86cf","strokeWidth":1,"opacity":0.7},"encoding":{"y":{"field":"c","type":"quantitative","title":null,"scale":{"domain":[28.9,47.5]},"axis":{"orient":"right","domain":false,"ticks":false,"grid":false,"values":[29,30,31,32,33,34,35,36,37,38,39,40,41,42,43,44,45,46,47],"format":".3f","labelFontSize":8,"labelPadding":5,"labelColor":"#c0c3cb"}}}},
{"data":{"name":"candles"},"mark":{"type":"rule","strokeWidth":1,"opacity":0.7},"encoding":{"y":{"field":"l","type":"quantitative","title":null,"scale":{"domain":[28.9,47.5]},"axis":{"orient":"right","domain":false,"ticks":false,"grid":false,"values":[29,30,31,32,33,34,35,36,37,38,39,40,41,42,43,44,45,46,47],"format":".3f","labelFontSize":8,"labelPadding":5,"labelColor":"#c0c3cb"}},"y2":{"field":"h"},"color":{"condition":{"test":"datum.c>=datum.o","value":"#4a86cf"},"value":"#8b93a0"}}},
{"data":{"name":"candles"},"mark":{"type":"rule","strokeWidth":2},"encoding":{"y":{"field":"o","type":"quantitative","title":null,"scale":{"domain":[28.9,47.5]},"axis":{"orient":"right","domain":false,"ticks":false,"grid":false,"values":[29,30,31,32,33,34,35,36,37,38,39,40,41,42,43,44,45,46,47],"format":".3f","labelFontSize":8,"labelPadding":5,"labelColor":"#c0c3cb"}},"y2":{"field":"c"},"color":{"condition":{"test":"datum.c>=datum.o","value":"#3f7ec8"},"value":"#8b93a0"}}},
{"data":{"name":"cover"},"mark":{"type":"rect","fill":"white"},"encoding":{"x2":{"field":"t2"},"y2":{"field":"p2"}}},
{"data":{"name":"tag"},"mark":{"type":"rect","fill":"#363a45"},"encoding":{"x2":{"field":"t2"},"y2":{"field":"p2"}}},
{"data":{"name":"symbol"},"mark":{"type":"text","align":"left","baseline":"middle","fontSize":6.9,"fill":"#b9bcc5"},"encoding":{"text":{"field":"label"}}},
{"data":{"name":"notes"},"mark":{"type":"text","align":"left","baseline":"middle","fontSize":7.4},"encoding":{"text":{"field":"label"},"color":{"field":"kind","type":"nominal","legend":null,"scale":{"domain":["head","muted","val","fib","fade","tag"],"range":["#2f3138","#b9bcc5","#80848f","#5d6066","#b7c6d4","#e4e5e9"]}}}},
{"data":{"name":"icon"},"mark":{"type":"point","shape":"circle","filled":false,"size":120,"stroke":"#9a5cb8","strokeWidth":1,"opacity":1}},
{"data":{"name":"icon"},"mark":{"type":"point","shape":"M0.2,-1L-0.6,0.15H0L-0.2,1L0.6,-0.15H0Z","filled":true,"size":49,"fill":"#9a5cb8","opacity":1}},
{"data":{"name":"dot"},"mark":{"type":"point","shape":"circle","filled":true,"size":12,"fill":"#e0315a","opacity":1}},
{"data":{"name":"logo"},"mark":{"type":"point","shape":"M-1,-0.65H-0.1V0.7H-0.5V-0.15H-1ZM0.02,-0.35A0.2,0.2 0 1 1 0.42,-0.35A0.2,0.2 0 1 1 0.02,-0.35ZM0.52,-0.65H1L0.5,0.7H0.02Z","filled":true,"size":256,"fill":"#131722","opacity":1}},
{"data":{"name":"brand"},"mark":{"type":"text","align":"left","baseline":"middle","font":"Inter","fontSize":11.3,"fontWeight":600,"fill":"#131722"},"encoding":{"text":{"field":"label"}}}
]
}
